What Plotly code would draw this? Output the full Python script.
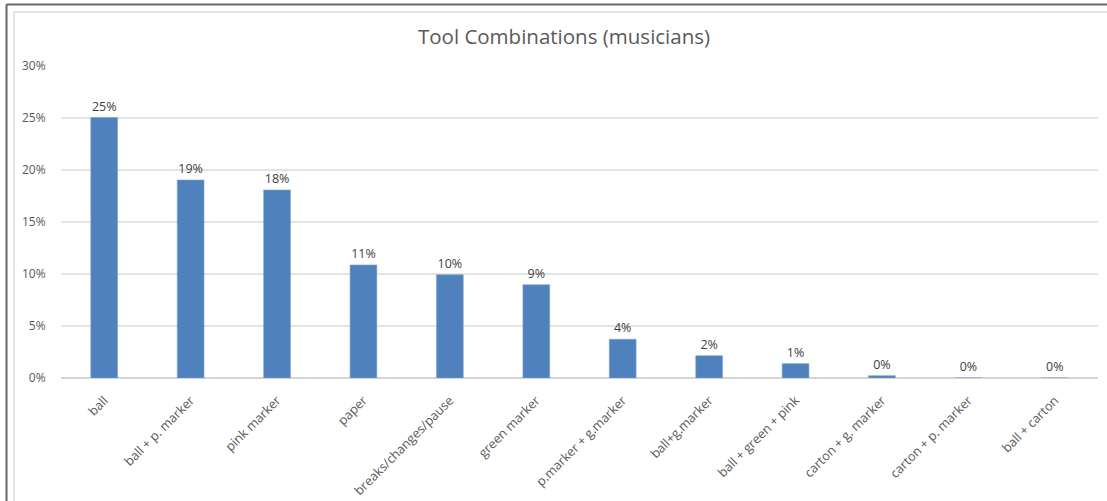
import plotly.graph_objects as go

# Share of musicians using each tool combination
categories = [
    "ball", "ball + p. marker", "pink marker", "paper", "breaks/changes/pause",
    "green marker", "p.marker + g.marker", "ball+g.marker", "ball + green + pink",
    "carton + g. marker", "carton + p. marker", "ball + carton",
]
shares = [0.2504, 0.1904, 0.1808, 0.1087, 0.0993, 0.0897, 0.0372, 0.0214, 0.0138, 0.0022, 0.0, 0.0]
y_ticks = [0, 0.05, 0.10, 0.15, 0.20, 0.25, 0.30]

W, H = 1107, 501
ML, MR, MT, MB = 61, 9, 66, 123
PW, PH = W - ML - MR, H - MT - MB

def px_x(x):
    return (x - ML) / PW

def px_y(y):
    return (H - MB - y) / PH

FONT = "Open Sans"

fig = go.Figure(
    go.Bar(
        x=categories,
        y=shares,
        width=0.31,
        marker=dict(color="#4f81bd", line=dict(color="#7fa2cf", width=0.6)),
        text=shares,
        texttemplate="%{y:.0%}",
        textposition="outside",
        textfont=dict(family=FONT, size=12.5, color="#404040"),
        cliponaxis=False,
        hoverinfo="x+y",
    )
)

# Frame lines around the chart
frame = [
    # dark outer border
    dict(x0=px_x(6.5), x1=px_x(W + 2), y0=px_y(4.5), y1=px_y(4.5), color="#666666", width=2),
    dict(x0=px_x(6.5), x1=px_x(6.5), y0=px_y(4.5), y1=px_y(H + 2), color="#666666", width=2),
    # light inner border
    dict(x0=px_x(14), x1=px_x(W + 2), y0=px_y(12), y1=px_y(12), color="#e2e2e2", width=2),
    dict(x0=px_x(14), x1=px_x(14), y0=px_y(12), y1=px_y(H + 2), color="#e2e2e2", width=2),
]
for f in frame:
    fig.add_shape(
        type="line", xref="paper", yref="paper",
        x0=f["x0"], x1=f["x1"], y0=f["y0"], y1=f["y1"],
        line=dict(color=f["color"], width=f["width"]),
        layer="above",
    )

fig.update_layout(
    width=W,
    height=H,
    margin=dict(l=ML, r=MR, t=MT, b=MB, pad=0, autoexpand=False),
    paper_bgcolor="white",
    plot_bgcolor="white",
    showlegend=False,
    bargap=0.69,
    title=dict(
        text="Tool Combinations (musicians)",
        x=564 / W,
        xanchor="center",
        y=1 - 37 / H,
        yanchor="middle",
        font=dict(family=FONT, size=20.5, color="#595959"),
    ),
    xaxis=dict(
        automargin=False,
        tickangle=-45,
        tickfont=dict(family=FONT, size=12.7, color="#595959"),
        showgrid=False,
        showline=False,
        ticks="outside",
        ticklen=9,
        tickcolor="rgba(0,0,0,0)",
        fixedrange=True,
    ),
    yaxis=dict(
        automargin=False,
        range=[0, 0.30],
        tickvals=y_ticks,
        tickformat=".0%",
        tickfont=dict(family=FONT, size=12, color="#595959"),
        showgrid=True,
        gridcolor="#e3e3e3",
        gridwidth=1.5,
        zeroline=True,
        zerolinecolor="#d4d4d4",
        zerolinewidth=1.5,
        showline=False,
        ticks="outside",
        ticklen=12,
        tickcolor="rgba(0,0,0,0)",
        fixedrange=True,
    ),
)

fig.write_html("out.html")
